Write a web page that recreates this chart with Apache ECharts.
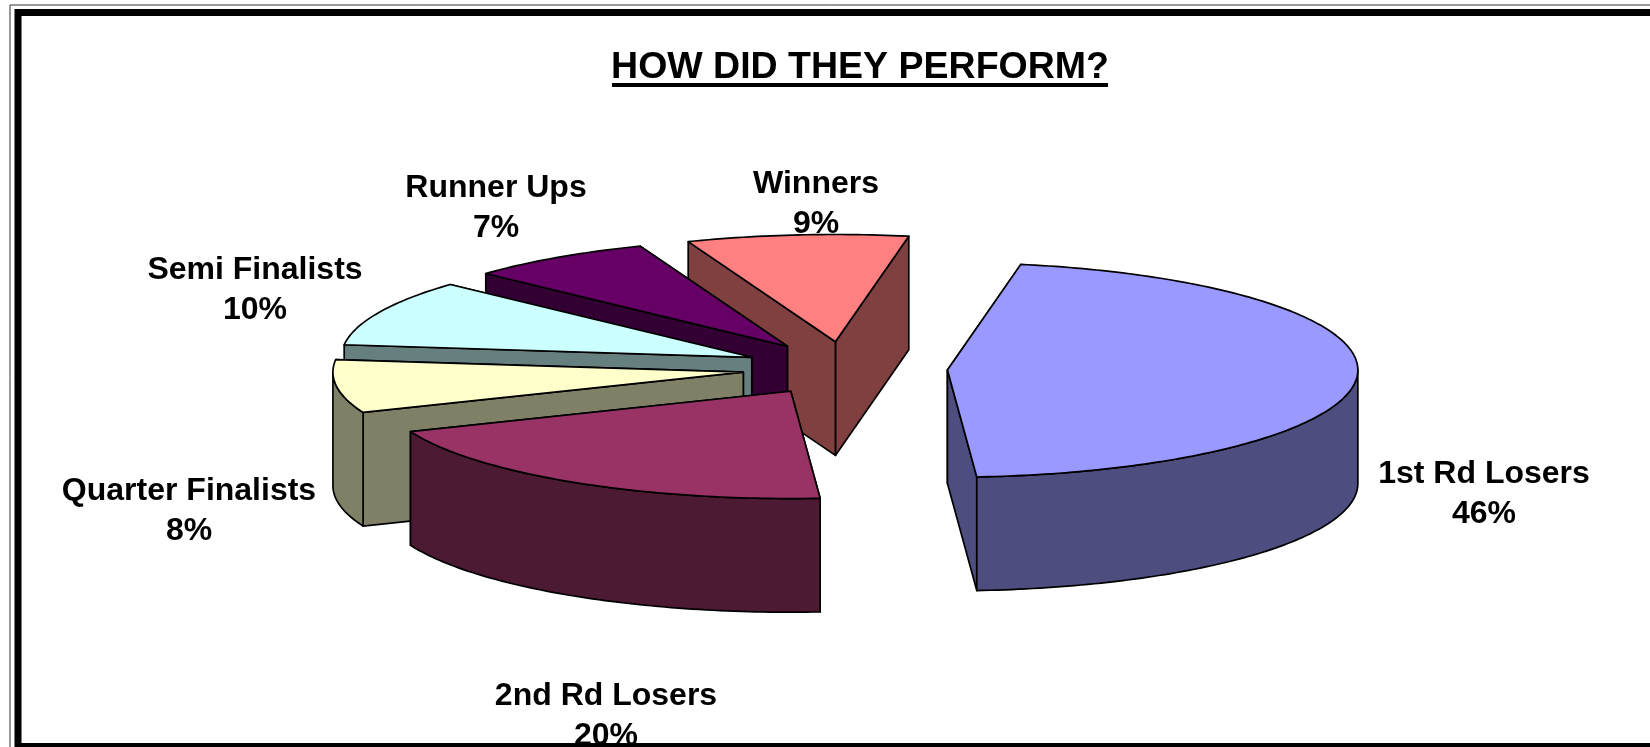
<!DOCTYPE html>
<html>
<head>
<meta charset="utf-8">
<style>
  html, body { margin: 0; padding: 0; background: #fff; }
  #chart { width: 1650px; height: 747px; }
</style>
<script src="https://cdn.jsdelivr.net/npm/echarts@6/dist/echarts.min.js"></script>
</head>
<body>
<div id="chart"></div>
<script>
var categories = ['1st Rd Losers', '2nd Rd Losers', 'Quarter Finalists', 'Semi Finalists', 'Runner Ups', 'Winners'];
var shares = [46, 20, 8, 10, 7.3, 8.7];
var topColors = ['#9999FF', '#993366', '#FFFFCC', '#CCFFFF', '#660066', '#FF8080'];
var sideColors = ['#4D4D80', '#4D1A33', '#808066', '#668080', '#330033', '#804040'];

// label centres, in px
var labelCentres = [[1484, 494], [606, 716], [189, 511], [255, 290], [496, 208], [816, 204]];

// pie projection
var cx = 845, cy = 368.5, rx = 410.4, ry = 107.3, depth = 113.6;
var explode = 0.25;
var firstAngle = 10.3;

var fontFamily = '"Liberation Sans", Arial, sans-serif';

var total = shares.reduce(function (a, b) { return a + b; }, 0);

function rim(deg) {
  var t = deg * Math.PI / 180;
  return [rx * Math.sin(t), -ry * Math.cos(t)];
}

function sliceAngles(index) {
  var start = firstAngle;
  for (var i = 0; i < index; i++) {
    start += shares[i] / total * 360;
  }
  return [start, start + shares[index] / total * 360];
}

function shiftDown(p) {
  return [p[0], p[1] + depth];
}

function renderSlice(params, api) {
  var i = params.dataIndex;
  var angles = sliceAngles(i);
  var start = angles[0], end = angles[1];
  var mid = rim((start + end) / 2);
  var apex = [cx + explode * mid[0], cy + explode * mid[1]];

  function at(deg) {
    var p = rim(deg);
    return [apex[0] + p[0], apex[1] + p[1]];
  }

  var arc = [];
  for (var d = start; d < end; d += 1) arc.push(at(d));
  arc.push(at(end));

  var base = (10 - i) * 10;
  var children = [];
  function poly(points, fill, order) {
    children.push({
      type: 'polygon',
      z2: base + order,
      shape: { points: points },
      style: { fill: fill, stroke: '#000', lineWidth: 1.7, lineJoin: 'round' }
    });
  }

  // radial walls, back one first
  var a = at(start), b = at(end);
  var walls = a[1] < b[1] ? [a, b] : [b, a];
  poly([apex, walls[0], shiftDown(walls[0]), shiftDown(apex)], sideColors[i], 0);
  poly([apex, walls[1], shiftDown(walls[1]), shiftDown(apex)], sideColors[i], 1);

  // outer wall, only the part facing the viewer
  var from = Math.max(start, 90), to = Math.min(end, 270);
  if (to > from) {
    var front = [];
    for (var k = from; k < to; k += 1) front.push(at(k));
    front.push(at(to));
    var back = front.slice().reverse().map(shiftDown);
    poly(front.concat(back), sideColors[i], 2);
  }

  poly([apex].concat(arc), topColors[i], 3);
  return { type: 'group', children: children };
}

function renderLabel(params, api) {
  var i = params.dataIndex;
  return {
    type: 'text',
    style: {
      x: labelCentres[i][0],
      y: labelCentres[i][1],
      text: categories[i] + '\n' + Math.round(api.value(0) / total * 100) + '%',
      align: 'center',
      verticalAlign: 'middle',
      fontFamily: fontFamily,
      fontWeight: 'bold',
      fontSize: 32,
      lineHeight: 40,
      fill: '#000'
    }
  };
}

var chart = echarts.init(document.getElementById('chart'), null, { renderer: 'canvas' });

chart.setOption({
  backgroundColor: '#fff',
  animation: false,
  title: {
    text: 'HOW DID THEY PERFORM?',
    left: 855,
    top: 44,
    textAlign: 'center',
    textStyle: { fontFamily: fontFamily, fontWeight: 'bold', fontSize: 37.5, color: '#000' }
  },
  series: [
    { type: 'custom', coordinateSystem: 'none', silent: true, clip: false, z: 2, renderItem: renderSlice, data: shares },
    { type: 'custom', coordinateSystem: 'none', silent: true, clip: false, z: 3, renderItem: renderLabel, data: shares }
  ],
  graphic: [
    // title underline
    { type: 'rect', z: 100, shape: { x: 612, y: 83, width: 496, height: 4 }, style: { fill: '#000' } },
    // double frame, open past the right edge
    { type: 'rect', z: 100, shape: { x: 10, y: 5, width: 1700, height: 800 }, style: { fill: 'none', stroke: '#333', lineWidth: 1 } },
    { type: 'rect', z: 100, shape: { x: 18, y: 12.5, width: 1700, height: 734 }, style: { fill: 'none', stroke: '#000', lineWidth: 7 } }
  ]
});
</script>
</body>
</html>
